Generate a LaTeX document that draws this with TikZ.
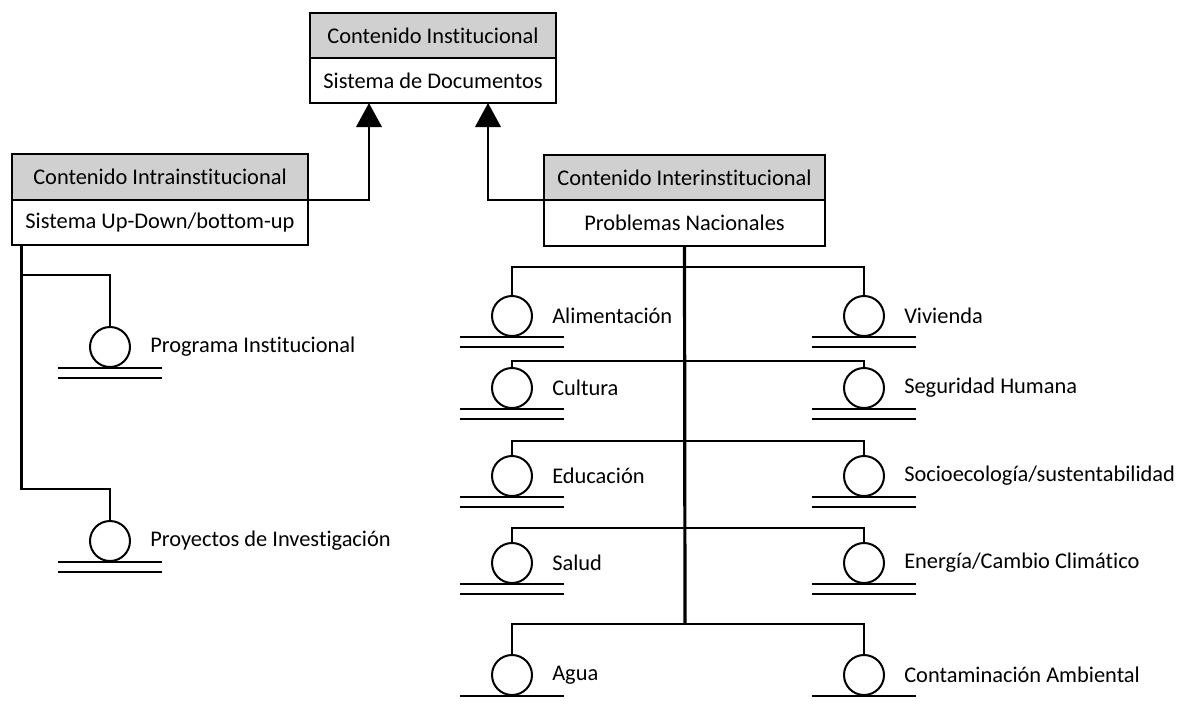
\documentclass[tikz,border=0pt]{standalone}
\usepackage{fontspec}
\setmainfont{Carlito}[Ligatures=NoCommon]
\usetikzlibrary{arrows.meta}
\definecolor{hdrgray}{RGB}{208,208,208}
\tikzset{
  boxpart/.style={draw=black, line width=1.2pt, inner sep=0pt, outer sep=0pt, font=\fontsize{16.8}{20}\selectfont, text=black},
  hdr/.style={boxpart, fill=hdrgray},
  bdy/.style={boxpart, fill=white},
  conn/.style={line width=2pt, draw=black},
  trunk/.style={line width=2.4pt, draw=black},
  arr/.style={conn, -{Triangle[width=19pt,length=18pt]}},
  dbcirc/.style={circle, draw=black, line width=1.5pt, minimum size=30pt, inner sep=0pt, outer sep=0pt},
  dbline/.style={line width=1.8pt, draw=black},
  lbl/.style={anchor=west, inner sep=0pt, font=\fontsize{16.8}{20}\selectfont, text=black}
}
\newcommand\dbsym[4]{%
  \node[dbcirc] (#1) at (#2,#3) {};
  \draw[dbline] (#2-52,#3+21) -- (#2+52,#3+21);
  \draw[dbline] (#2-52,#3+31) -- (#2+52,#3+31);
  \node[lbl] (#1l) at (#2+40,#3) {#4};
}
\newcommand\dbsymone[4]{%
  \node[dbcirc] (#1) at (#2,#3) {};
  \draw[dbline] (#2-52,#3+21) -- (#2+52,#3+21);
  \node[lbl] (#1l) at (#2+40,#3) {#4};
}
\begin{document}
\begin{tikzpicture}[x=0.75pt, y=-0.75pt]
\useasboundingbox (0,0) rectangle (1179,704);
% boxes
\node[hdr, minimum width=184.5pt, minimum height=33.75pt] (topH) at (433,35.5) {Contenido Institucional};
\node[bdy, minimum width=184.5pt, minimum height=33.75pt, anchor=north] (topB) at (topH.south) {Sistema de Documentos};
\node[hdr, minimum width=222pt, minimum height=34.5pt] (intraH) at (160,177) {Contenido Intrainstitucional};
\node[bdy, minimum width=222pt, minimum height=33.75pt, anchor=north] (intraB) at (intraH.south) {Sistema Up-Down/bottom-up};
\node[hdr, minimum width=210.75pt, minimum height=33.75pt] (interH) at (684.5,177.5) {Contenido Interinstitucional};
\node[bdy, minimum width=210.75pt, minimum height=34.5pt, anchor=north] (interB) at (interH.south) {Problemas Nacionales};
% arrows to top box
\coordinate (a1) at (369,103);
\coordinate (a2) at (488,103);
\draw[arr] (intraH.south east) -| (a1);
\draw[arr] (interH.south west) -| (a2);
% left tree
\dbsym{prog}{110}{347}{Programa Institucional}
\dbsym{proy}{110}{541}{Proyectos de Investigación}
\coordinate (l0) at (21.5,245);
\coordinate (lj1) at (21.5,275);
\coordinate (lj2) at (21.5,489);
\draw[conn] (l0) -- (lj2) -| (proy.north);
\draw[conn] (lj1) -| (prog.north);
% right tree
\dbsym{alim}{512}{316}{Alimentación}
\dbsym{viv}{864}{316}{Vivienda}
\dbsym{cult}{512}{388}{Cultura}
\dbsym{seg}{864}{388}{Seguridad Humana}
\dbsym{edu}{512}{476}{Educación}
\dbsym{soc}{864}{476}{Socioecología/sustentabilidad}
\dbsym{sal}{512}{563}{Salud}
\dbsym{ene}{864}{563}{Energía/Cambio Climático}
\dbsymone{agua}{512}{675}{Agua}
\dbsymone{cont}{864}{675}{Contaminación Ambiental}
\coordinate (j1) at (685,267);
\coordinate (j2) at (685,361);
\coordinate (j3) at (685,441);
\coordinate (j4) at (685,528);
\coordinate (j5) at (685,624);
\draw[trunk] (interB.south) -- (j5);
\draw[conn] (alim.north) |- (j1) -| (viv.north);
\draw[conn] (cult.north) |- (j2) -| (seg.north);
\draw[conn] (edu.north) |- (j3) -| (soc.north);
\draw[conn] (sal.north) |- (j4) -| (ene.north);
\draw[conn] (agua.north) |- (j5) -| (cont.north);
\end{tikzpicture}
\end{document}
